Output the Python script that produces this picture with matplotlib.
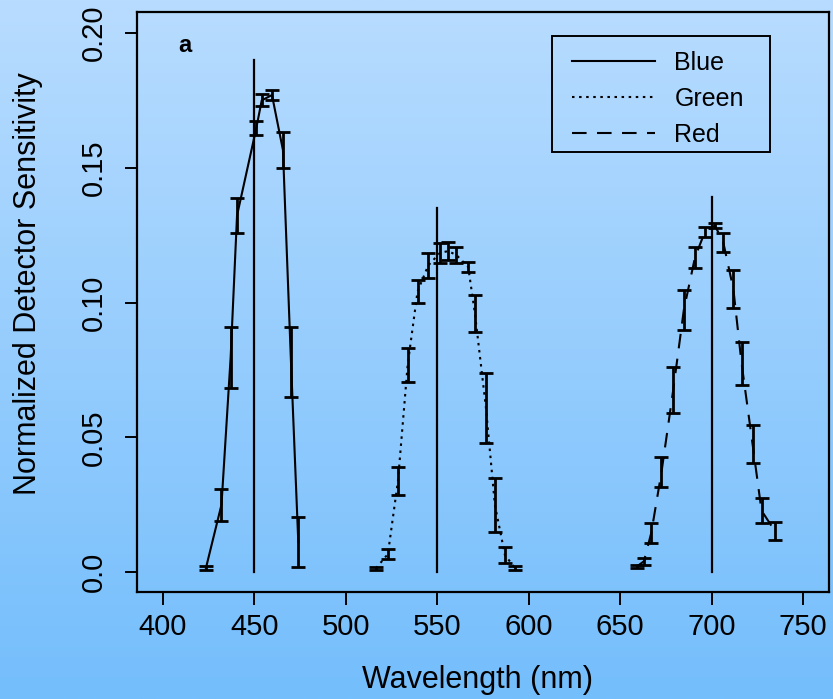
import numpy as np
import matplotlib
matplotlib.use("Agg")
import matplotlib.pyplot as plt
from matplotlib.lines import Line2D
from matplotlib.patches import Rectangle

plt.rcParams['font.family'] = ['Liberation Sans', 'DejaVu Sans']

# ---- data ----
blue_wl = [423.5, 432, 437, 440.5, 451, 454, 459.6, 465.6, 470, 474]
blue_val = [0.0015, 0.025, 0.0796, 0.1323, 0.1646, 0.175, 0.177, 0.1566, 0.0779, 0.0111]
blue_err = [0.0006, 0.006, 0.0113, 0.0065, 0.0026, 0.0022, 0.0018, 0.0067, 0.013, 0.0093]

green_wl = [516.5, 523, 528.5, 533.8, 539.2, 545, 551.4, 556, 560.5, 566.9, 570.6, 576.6, 581.5, 587, 592.5]
green_val = [0.0014, 0.0067, 0.0338, 0.0768, 0.1041, 0.1137, 0.1184, 0.1191, 0.1176, 0.1132, 0.0959, 0.061, 0.0249, 0.0063, 0.0015]
green_err = [0.0006, 0.002, 0.0052, 0.0063, 0.0043, 0.0046, 0.0037, 0.0033, 0.003, 0.0017, 0.0068, 0.013, 0.01, 0.003, 0.0006]

red_wl = [659, 663, 667, 672.6, 679, 684.8, 690.9, 696.3, 701.8, 706.4, 711.9, 716.4, 722.4, 727.3, 734.6]
red_val = [0.002, 0.004, 0.0145, 0.0371, 0.0675, 0.0972, 0.1167, 0.1262, 0.1286, 0.1223, 0.105, 0.0774, 0.0475, 0.0228, 0.0152]
red_err = [0.0006, 0.0012, 0.0037, 0.0056, 0.0085, 0.0074, 0.0039, 0.0019, 0.001, 0.0035, 0.007, 0.008, 0.007, 0.0046, 0.0033]

peak_wl = [450, 550, 700]
peak_top = [0.19, 0.135, 0.139]

series_names = ["Blue", "Green", "Red"]
xticks = [400, 450, 500, 550, 600, 650, 700, 750]
yticks = [0.0, 0.05, 0.10, 0.15, 0.20]
yticklabels = ["0.0", "0.05", "0.10", "0.15", "0.20"]

# ---- figure ----
W, H = 833, 699
fig = plt.figure(figsize=(W / 100, H / 100), dpi=100)

# gradient background
bg = fig.add_axes([0, 0, 1, 1], zorder=-10)
top_c = np.array([0xb8, 0xdc, 0xff]) / 255
bot_c = np.array([0x74, 0xbe, 0xfc]) / 255
t = np.linspace(0, 1, 256)[:, None]
grad = top_c[None, :] * (1 - t) + bot_c[None, :] * t
bg.imshow(grad[:, None, :].repeat(2, axis=1), aspect='auto', extent=[0, 1, 0, 1])
bg.set_axis_off()

ax = fig.add_axes([137 / W, 1 - 592 / H, (829 - 137) / W, (592 - 12) / H])
ax.set_facecolor('none')

dot = (0, (1.2, 2.2))
dash = (0, (7, 5))
lw = 1.5
for wl, val, err, ls in [(blue_wl, blue_val, blue_err, '-'),
                         (green_wl, green_val, green_err, dot),
                         (red_wl, red_val, red_err, dash)]:
    ax.plot(wl, val, color='black', linestyle=ls, lw=lw)
    ax.errorbar(wl, val, yerr=err, fmt='none', ecolor='black', elinewidth=2.0,
                capsize=5, capthick=2.0)

for x, top in zip(peak_wl, peak_top):
    ax.plot([x, x], [0, top], color='black', lw=1.6)

ax.set_xlim(385.8, 764.2)
ax.set_ylim(-0.0074, 0.2078)
ax.set_xticks(xticks)
ax.set_xticklabels([str(v) for v in xticks])
ax.set_yticks(yticks)
ax.set_yticklabels(yticklabels, rotation=90, va='center')

for s in ax.spines.values():
    s.set_linewidth(1.6)
ax.tick_params(direction='out', length=9, width=1.4, labelsize=21)
ax.tick_params(axis='x', pad=6)
ax.tick_params(axis='y', pad=12)

ax.set_xlabel("Wavelength (nm)", fontsize=22, va='center')
ax.set_ylabel("Normalized Detector Sensitivity", fontsize=22, va='center')
ax.xaxis.set_label_coords((478 - 137) / 692, (592 - 680) / 580)
ax.yaxis.set_label_coords((28 - 137) / 692, (592 - 284) / 580)

ax.text(0.069, 0.943, "a", transform=ax.transAxes, fontsize=17, fontweight='bold',
        ha='center', va='center')

# legend frame drawn separately for exact padding
x0, x1 = (552 - 137) / 692, (770 - 137) / 692
y1, y0 = (592 - 36) / 580, (592 - 152) / 580
ax.add_patch(Rectangle((x0, y0), x1 - x0, y1 - y0, transform=ax.transAxes,
                       facecolor='none', edgecolor='black', lw=1.4, zorder=5))

handles = [Line2D([0], [0], color='black', lw=1.5, linestyle='-'),
           Line2D([0], [0], color='black', lw=1.5, linestyle=dot),
           Line2D([0], [0], color='black', lw=1.5, linestyle=dash)]
leg = ax.legend(handles, series_names, loc='upper left',
                bbox_to_anchor=((572 - 137) / 692, (592 - 51) / 580),
                borderaxespad=0, borderpad=0, fontsize=18, handlelength=3.3,
                handletextpad=0.8, labelspacing=0.47, frameon=False)

fig.savefig("out.png", dpi=100)
